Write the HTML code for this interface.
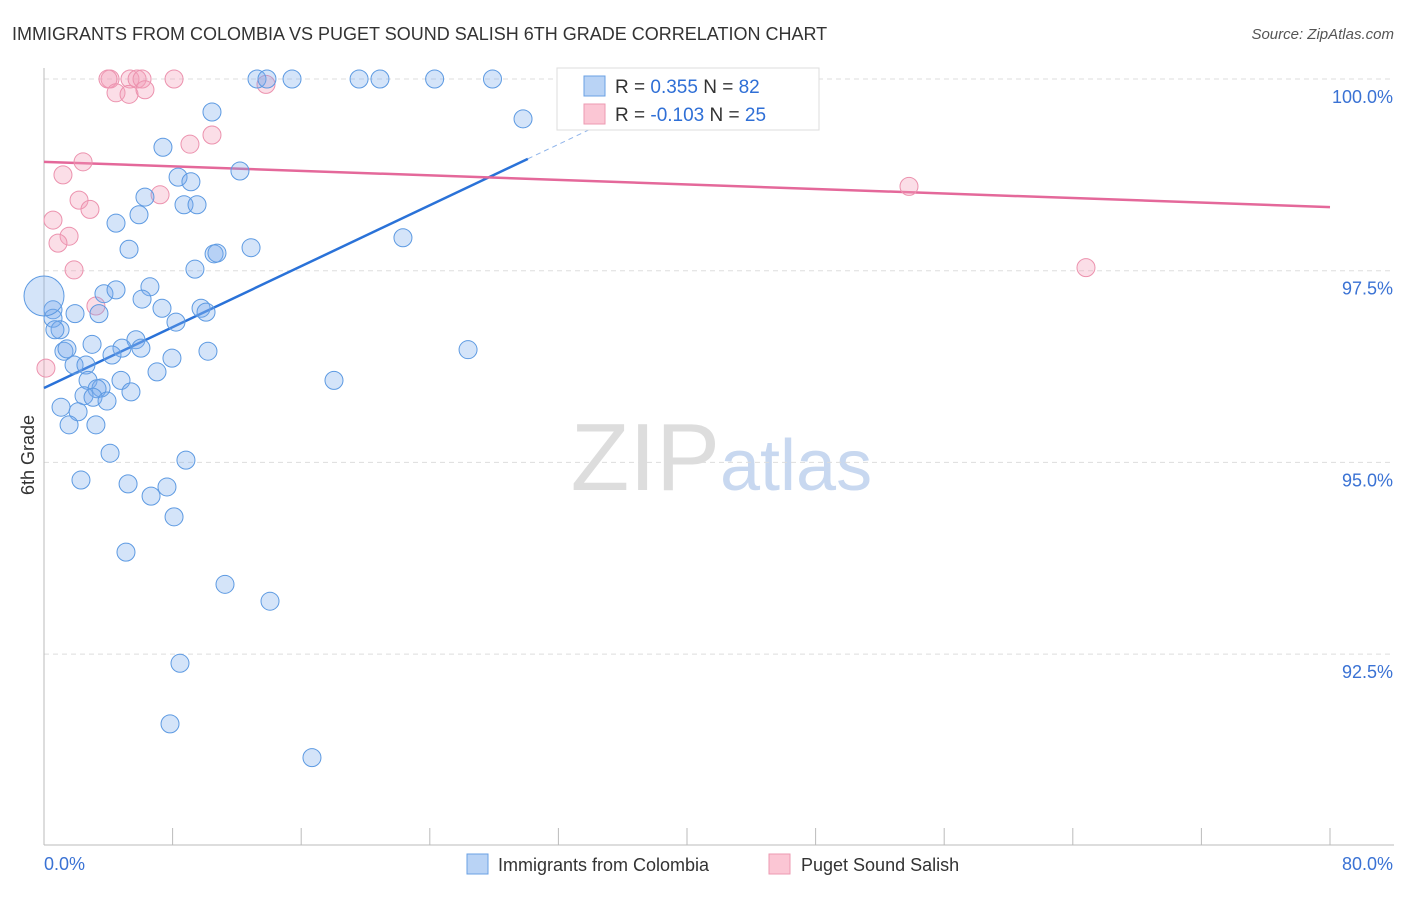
<!DOCTYPE html>
<html><head><meta charset="utf-8"><style>
body{margin:0;background:#fff;font-family:"Liberation Sans",sans-serif;}
svg text{font-family:"Liberation Sans",sans-serif;}
</style></head><body>
<svg id="chart" width="1406" height="892" xmlns="http://www.w3.org/2000/svg">
<text x="12" y="40" font-size="18" fill="#333">IMMIGRANTS FROM COLOMBIA VS PUGET SOUND SALISH 6TH GRADE CORRELATION CHART</text>
<text x="1394" y="39" font-size="15" fill="#555" font-style="italic" text-anchor="end">Source: ZipAtlas.com</text>
<text transform="translate(34,455) rotate(-90)" font-size="18" fill="#333" text-anchor="middle">6th Grade</text>
<text x="720" y="490" font-size="96" fill="#ddd" font-family="Liberation Serif" text-anchor="end">ZIP</text>
<text x="720" y="490" font-size="72" fill="#c8d8f0">atlas</text>
<g id="grid"></g><g id="axes"></g><g id="lines"></g><g id="pts"></g>
<g>
<rect x="557" y="68" width="262" height="62" fill="#fff" stroke="#ddd"/>
<rect x="584" y="76" width="21" height="20" fill="#b9d3f5" stroke="#6aa0e4"/>
<rect x="584" y="104" width="21" height="20" fill="#fbc6d4" stroke="#ec9ab2"/>
<text x="615" y="93" font-size="19" fill="#333">R = <tspan fill="#2f6fd6">0.355</tspan>   N = <tspan fill="#2f6fd6">82</tspan></text>
<text x="615" y="121" font-size="19" fill="#333">R = <tspan fill="#2f6fd6">-0.103</tspan>   N = <tspan fill="#2f6fd6">25</tspan></text>
</g>
<g>
<rect x="467" y="854" width="21" height="20" fill="#b9d3f5" stroke="#6aa0e4"/>
<text x="498" y="871" font-size="18" fill="#333">Immigrants from Colombia</text>
<rect x="769" y="854" width="21" height="20" fill="#fbc6d4" stroke="#ec9ab2"/>
<text x="801" y="871" font-size="18" fill="#333">Puget Sound Salish</text>
</g>
</svg>
<script>
const yTicks=[100,97.5,95,92.5];
const yTickLabels=["100.0%","97.5%","95.0%","92.5%"];
const xTickLabels=["0.0%","80.0%"];
const blueX=[13.25,13.87,15.43,19.6,20.9,24.3,27.9,10.45,29.8,7.4,12.19,8.34,9.14,6.28,8.71,9.52,5.91,4.48,22.33,5.29,12.88,10.58,10.76,9.39,3.73,4.48,6.59,6.1,7.34,9.77,10.08,8.21,1.93,3.42,0.56,0.56,1.0,0.68,0,5.72,6.03,4.85,4.23,2.99,1.24,1.43,10.2,7.96,26.38,7.03,1.87,2.61,4.79,2.74,18.04,3.55,3.3,5.41,2.49,3.05,3.92,1.06,2.12,1.56,3.23,4.11,8.83,2.3,5.23,7.65,6.66,8.09,5.1,11.26,14.06,8.46,7.84,16.67];
const blueY=[100,100,100,100,100,100,100,99.57,99.48,99.11,98.8,98.72,98.66,98.46,98.36,98.36,98.23,98.12,97.93,97.78,97.8,97.72,97.73,97.52,97.2,97.25,97.29,97.13,97.01,97.01,96.96,96.83,96.94,96.94,96.99,96.88,96.73,96.73,97.17,96.6,96.49,96.49,96.4,96.54,96.45,96.48,96.45,96.36,96.47,96.18,96.27,96.27,96.07,96.07,96.07,95.97,95.96,95.92,95.87,95.85,95.8,95.72,95.66,95.49,95.49,95.12,95.03,94.77,94.72,94.68,94.56,94.29,93.83,93.41,93.19,92.38,91.59,91.15];
const pinkX=[4.11,3.98,5.35,5.79,6.1,8.09,13.81,4.48,5.29,6.28,9.08,10.45,2.43,1.18,53.81,2.18,2.86,0.56,1.56,0.87,1.87,64.82,3.23,0.12,7.22];
const pinkY=[100,100,100,100,100,100,99.93,99.82,99.8,99.86,99.15,99.27,98.92,98.75,98.6,98.42,98.3,98.16,97.95,97.86,97.51,97.54,97.04,96.23,98.49];
const blueTrend=[95.97,0.0993];
const pinkTrend=[98.92,-0.00738];
const NS="http://www.w3.org/2000/svg";
const X0=44,X1=1330,Y100=79,PX25=191.7;
function sx(v){return X0+(v/80)*(X1-X0);}
function sy(v){return Y100+(100-v)/2.5*PX25;}
function mk(tag,attrs,parent){const e=document.createElementNS(NS,tag);for(const k in attrs)e.setAttribute(k,attrs[k]);document.getElementById(parent).appendChild(e);return e;}
yTicks.forEach((t,i)=>{
 const l=mk('line',{x1:X0,x2:1394,y1:sy(t),y2:sy(t),stroke:'#ddd','stroke-dasharray':'5,4'},'grid');
 
 
 const tx=mk('text',{x:1393,y:sy(t)+24,'font-size':18,fill:'#3a72d4','text-anchor':'end'},'grid');
 tx.textContent=yTickLabels[i];
 
 
});
let a=mk('line',{x1:X0,x2:X0,y1:68,y2:845,stroke:'#bbb'},'axes');


a=mk('line',{x1:X0,x2:1394,y1:845,y2:845,stroke:'#bbb'},'axes');


for(let i=0;i<=10;i++){const t=mk('line',{x1:sx(i*8),x2:sx(i*8),y1:828,y2:845,stroke:'#bbb'},'axes');
 
 }
[[0,'start',44],[80,'end',1393]].forEach((d,i)=>{const t=mk('text',{x:d[2],y:870,'font-size':18,fill:'#3a72d4','text-anchor':d[1]},'axes');t.textContent=xTickLabels[i];
 
 });
function trend(p,x0,x1,col,dash,name){const l=mk('line',{x1:sx(x0),y1:sy(p[0]+p[1]*x0),x2:sx(x1),y2:sy(p[0]+p[1]*x1),stroke:col,'stroke-width':dash?1:2.5,'stroke-dasharray':dash?'5,4':'none'},'lines');
 
 }
trend(blueTrend,0,30.1,'#2a72d8',false,'colombia-trend-line');
trend(blueTrend,30.1,34.5,'#8fb4ea',true,'colombia-trend-extension');
trend(pinkTrend,0,80,'#e4689a',false,'salish-trend-line');
pinkX.forEach((x,i)=>{const c=mk('circle',{cx:sx(x),cy:sy(pinkY[i]),r:9,fill:'rgba(244,160,186,0.35)',stroke:'#ec92ae','stroke-width':1},'pts');
 
 });
blueX.forEach((x,i)=>{const big=(x===0);const c=mk('circle',{cx:sx(x),cy:sy(blueY[i]),r:big?20:9,fill:'rgba(120,170,235,0.32)',stroke:'#5d9ae2','stroke-width':1},'pts');
 
 });
</script>
</body></html>
